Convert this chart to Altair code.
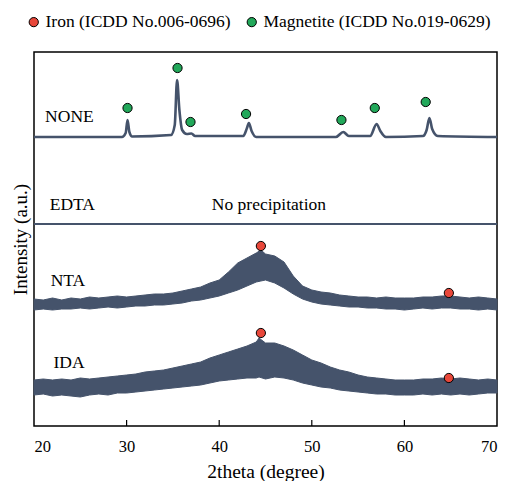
import altair as alt
import pandas as pd

# ---- data (2theta in degrees, intensity in arbitrary units) ----
none_x = [20, 25, 29.5, 29.9, 30.1, 30.3, 30.6, 34.8, 35.2, 35.45, 35.7, 36.0, 36.5, 37.0, 37.4,
          42.6, 43.0, 43.2, 43.5, 44.0, 52.6, 53.4, 54.0, 56.3, 57.0, 57.4, 58.0,
          62.0, 62.4, 62.7, 63.0, 63.6, 70]
none_y = [289, 289, 289, 293, 306, 294, 289.5, 291, 301, 346, 316, 296, 292, 292.5, 290,
          290, 298, 303, 295, 289, 289, 294, 290, 290, 302, 295, 289,
          290, 296, 308, 297, 290, 289]

edta_x = [20, 70]
edta_y = [202, 202]

nta_x = [20, 21, 22, 23, 24, 25, 26, 27, 28, 29, 30, 31, 32, 33, 34, 35, 36, 37, 38, 39, 40,
         41, 42, 43, 44, 44.5, 45, 46, 47, 48, 49, 50, 51, 52, 53, 54, 55, 56, 57, 58, 59, 60,
         61, 62, 63, 64, 65, 66, 67, 68, 69, 70]
nta_hi = [127, 126, 128, 126, 128, 127, 129, 128, 129, 130, 129, 130, 131, 132, 132, 133, 135,
          137, 139, 143, 146, 154, 163, 168, 173, 176, 172, 170, 164, 150, 140, 136, 134, 133,
          131, 130, 129, 129, 128, 129, 128, 128, 128, 129, 129, 130, 130, 129, 128, 129, 128, 127]
nta_lo = [116, 117, 116, 117, 117, 118, 117, 118, 119, 118, 119, 120, 120, 121, 121, 122, 123,
          125, 126, 128, 130, 133, 136, 140, 144, 145, 146, 143, 138, 132, 127, 124, 122, 121,
          120, 119, 119, 118, 118, 117, 117, 116, 117, 118, 117, 118, 118, 117, 117, 116, 117, 116]

ida_x = [20, 21, 22, 23, 24, 25, 26, 27, 28, 29, 30, 31, 32, 33, 34, 35, 36, 37, 38, 39, 40,
         41, 42, 43, 44, 44.3, 45, 46, 47, 48, 49, 50, 51, 52, 53, 54, 55, 56, 57, 58, 59, 60,
         61, 62, 63, 64, 65, 66, 67, 68, 69, 70]
ida_hi = [46, 47, 46, 47, 46, 48, 47, 48, 49, 50, 51, 52, 54, 55, 56, 58, 60, 62, 64, 68, 71,
          74, 77, 80, 84, 88, 83, 83, 80, 76, 71, 66, 63, 59, 56, 54, 51, 49, 48, 47, 46, 46,
          46, 47, 47, 48, 47, 48, 47, 46, 47, 46]
ida_lo = [31, 32, 30, 31, 30, 29, 31, 32, 31, 33, 33, 34, 35, 36, 37, 38, 39, 40, 41, 43, 45,
          46, 47, 48, 48, 49, 47, 49, 48, 46, 43, 41, 39, 38, 36, 35, 34, 33, 32, 32, 31, 31,
          31, 32, 31, 32, 31, 32, 31, 32, 33, 33]

phase_names = ["Iron (ICDD No.006-0696)", "Magnetite (ICDD No.019-0629)"]
phase_colors = ["#e8473a", "#22a85a"]
marker_phase = ["Magnetite (ICDD No.019-0629)"] * 7 + ["Iron (ICDD No.006-0696)"] * 4
marker_x = [30.1, 35.5, 36.9, 42.9, 53.2, 56.8, 62.3, 44.5, 64.8, 44.5, 64.8]
marker_y = [318, 358, 304, 312, 306, 318, 324, 180, 133, 93, 48]

label_text = ["NONE", "EDTA", "No precipitation", "NTA", "IDA"]
label_x = [21.2, 21.7, 39.2, 21.8, 22.1]
label_y = [309, 221, 221, 145, 63]

x_ticks = [20, 30, 40, 50, 60, 70]
inner_ticks = [30, 40, 50, 60]

LINE = "#45536b"
FONT = "Liberation Serif"

xs = alt.Scale(domain=[20, 70], nice=False, zero=False)
ys = alt.Scale(domain=[0, 374], nice=False, zero=False)

xaxis = alt.Axis(values=x_ticks, ticks=False, grid=False, domain=False, labelFont=FONT,
                 labelFontSize=16.5, labelColor="black", labelPadding=12,
                 title="2theta (degree)", titleFont=FONT, titleFontSize=19.5,
                 titleFontWeight="normal", titleColor="black", titlePadding=8, format="d")
yaxis = alt.Axis(labels=False, ticks=False, grid=False, domain=False,
                 title="Intensity (a.u.)", titleFont=FONT, titleFontSize=19,
                 titleFontWeight="normal", titleColor="black", titlePadding=4)

none_df = pd.DataFrame({"x": none_x, "y": none_y})
edta_df = pd.DataFrame({"x": edta_x, "y": edta_y})
nta_df = pd.DataFrame({"x": nta_x, "lo": nta_lo, "hi": nta_hi})
ida_df = pd.DataFrame({"x": ida_x, "lo": ida_lo, "hi": ida_hi})
mk_df = pd.DataFrame({"phase": marker_phase, "x": marker_x, "y": marker_y})
lb_df = pd.DataFrame({"t": label_text, "x": label_x, "y": label_y})
tk_df = pd.DataFrame({"x": inner_ticks})

none_line = alt.Chart(none_df).mark_line(color=LINE, strokeWidth=2.6, interpolate="monotone").encode(
    x=alt.X("x:Q", scale=xs, axis=xaxis),
    y=alt.Y("y:Q", scale=ys, axis=yaxis),
)
edta_line = alt.Chart(edta_df).mark_line(color=LINE, strokeWidth=2.2).encode(
    x=alt.X("x:Q", scale=xs), y=alt.Y("y:Q", scale=ys)
)
nta_area = alt.Chart(nta_df).mark_area(color=LINE, opacity=1, interpolate="linear",
                                       stroke=LINE, strokeWidth=1).encode(
    x=alt.X("x:Q", scale=xs), y=alt.Y("lo:Q", scale=ys), y2="hi:Q"
)
ida_area = alt.Chart(ida_df).mark_area(color=LINE, opacity=1, interpolate="linear",
                                       stroke=LINE, strokeWidth=1).encode(
    x=alt.X("x:Q", scale=xs), y=alt.Y("lo:Q", scale=ys), y2="hi:Q"
)
ticks = alt.Chart(tk_df).mark_rule(color="black", strokeWidth=1.2).encode(
    x=alt.X("x:Q", scale=xs), y=alt.value(374), y2=alt.value(368)
)
labels = alt.Chart(lb_df).mark_text(font=FONT, fontSize=17.5, align="left", baseline="middle",
                                     color="black").encode(
    x=alt.X("x:Q", scale=xs), y=alt.Y("y:Q", scale=ys), text="t:N"
)
markers = alt.Chart(mk_df).mark_point(filled=True, size=85, stroke="black", strokeWidth=1,
                                       opacity=1).encode(
    x=alt.X("x:Q", scale=xs), y=alt.Y("y:Q", scale=ys),
    fill=alt.Fill("phase:N", scale=alt.Scale(domain=phase_names, range=phase_colors),
                  legend=alt.Legend(orient="none", legendX=-9, legendY=-39, direction="horizontal",
                                    title=None, labelFont=FONT, labelFontSize=17.5,
                                    labelColor="black", symbolType="circle", symbolSize=85,
                                    symbolStrokeColor="black", symbolStrokeWidth=1,
                                    columnPadding=12, labelOffset=3, labelLimit=400)),
)

chart = alt.layer(none_line, edta_line, nta_area, ida_area, ticks, labels, markers).properties(
    width=463, height=374,
    autosize=alt.AutoSizeParams(type="none"),
    padding={"left": 26, "top": 44, "right": 2, "bottom": 55},
).configure_view(stroke="black", strokeWidth=1.5)

chart.save("out.html", embed_options={"renderer": "svg", "actions": False})
